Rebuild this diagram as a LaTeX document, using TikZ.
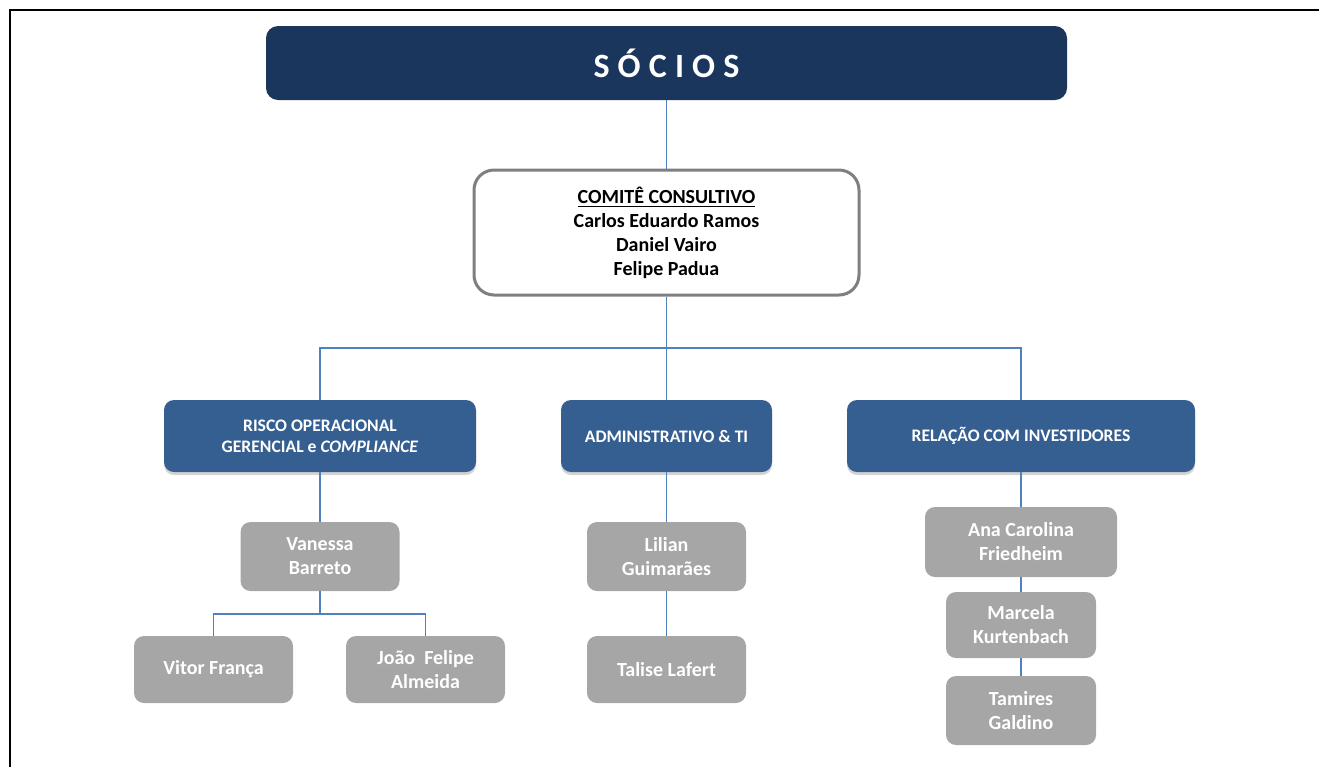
\documentclass[tikz,border=0pt]{standalone}
\usepackage{fontspec}
\setmainfont{Carlito}
\usetikzlibrary{positioning}
\usetikzlibrary{shadows}

\definecolor{navy}{HTML}{1B365D}
\definecolor{deptblue}{HTML}{365F91}
\definecolor{staffgray}{HTML}{A6A6A6}
\definecolor{framegray}{HTML}{7F7F7F}
\definecolor{linkblue}{HTML}{4F81BD}

\tikzset{
  top/.style={fill=navy, rounded corners=6pt, text=white, font=\bfseries\fontsize{17}{20}\selectfont,
    minimum width=400.5pt, minimum height=37pt, inner sep=0pt},
  board/.style={draw=framegray, line width=1.5pt, fill=white, rounded corners=10pt, align=center,
    font=\bfseries\fontsize{10}{12}\selectfont, minimum width=192.5pt, minimum height=62.5pt},
  dept/.style={fill=deptblue, rounded corners=5pt, text=white, align=center,
    font=\bfseries\fontsize{8.8}{10.5}\selectfont, minimum height=36pt,
    drop shadow={opacity=0.35, shadow xshift=0pt, shadow yshift=-1.5pt}},
  staff/.style={fill=staffgray, rounded corners=5pt, text=white, align=center,
    font=\bfseries\fontsize{10}{12}\selectfont, minimum width=79.5pt, minimum height=34pt},
  link/.style={draw=linkblue, line width=0.6pt}
}

\begin{document}
\begin{tikzpicture}[x=0.5pt, y=-0.5pt]
  \useasboundingbox (0,0) rectangle (1319,767);
  % frame
  \draw[line width=1.25pt] (10,767) -- (10,10) -- (1319,10);

  % top levels
  \node[top]   (soc) at (666.5,63)    {\addfontfeatures{LetterSpace=24}SÓCIOS};
  \node[board] (cc)  at (666.5,232.5) {\underline{COMITÊ CONSULTIVO}\\Carlos Eduardo Ramos\\Daniel Vairo\\Felipe Padua};

  % departments
  \node[dept, minimum width=156pt]   (risco) at (320,436)   {RISCO OPERACIONAL\\GERENCIAL e \textit{COMPLIANCE}};
  \node[dept, minimum width=105.5pt] (adm)   at (666.5,436) {ADMINISTRATIVO \& TI};
  \node[dept, minimum width=174pt]   (rel)   at (1021,436)  {RELAÇÃO COM INVESTIDORES};

  % staff
  \node[staff, minimum height=34.5pt] (vb) at (320,556.5)   {Vanessa\\Barreto};
  \node[staff, minimum height=33.5pt] (vf) at (213.5,669.5) {Vitor França};
  \node[staff, minimum height=33.5pt] (jf) at (425.5,669.5) {João~ Felipe\\Almeida};
  \node[staff, minimum height=34.5pt] (lg) at (666.5,556.5) {Lilian\\Guimarães};
  \node[staff, minimum height=33.5pt] (tl) at (666.5,669.5) {Talise Lafert};
  \node[staff, minimum width=96pt, minimum height=35pt] (ac) at (1021,542) {Ana Carolina\\Friedheim};
  \node[staff, minimum width=75pt, minimum height=33pt]  (mk) at (1021,625) {Marcela\\Kurtenbach};
  \node[staff, minimum width=75pt, minimum height=34.5pt] (tg) at (1021,710.5) {Tamires\\Galdino};

  \coordinate (bus)  at (666.5,348);
  \coordinate (vbus) at (320,614);

  \path[link] (soc) -- (cc)
              (cc) -- (bus)
              (risco.north) |- (bus) -| (rel.north)
              (adm.north) -- (bus)
              (risco) -- (vb)
              (vb) -- (vbus)
              (vf.north) |- (vbus) -| (jf.north)
              (adm) -- (lg)
              (lg) -- (tl)
              (rel) -- (ac)
              (ac) -- (mk)
              (mk) -- (tg);
\end{tikzpicture}
\end{document}
